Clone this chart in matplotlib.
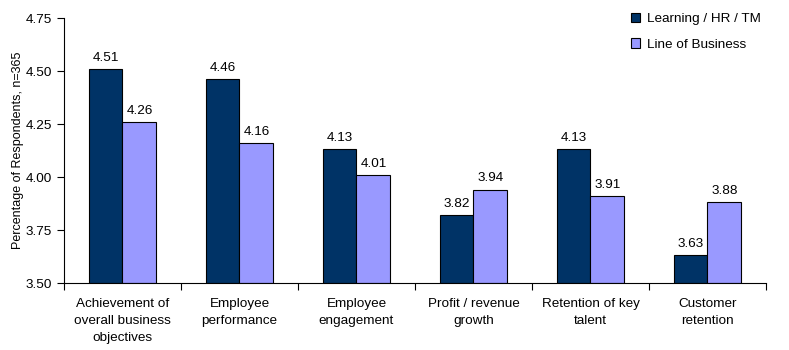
import matplotlib
matplotlib.use("Agg")
import matplotlib.pyplot as plt
import numpy as np

plt.rcParams['font.family'] = ['Liberation Sans', 'DejaVu Sans']

categories = ["Achievement of\noverall business\nobjectives", "Employee\nperformance",
              "Employee\nengagement", "Profit / revenue\ngrowth",
              "Retention of key\ntalent", "Customer\nretention"]
learning = [4.51, 4.46, 4.13, 3.82, 4.13, 3.63]
business = [4.26, 4.16, 4.01, 3.94, 3.91, 3.88]
series_names = ["Learning / HR / TM", "Line of Business"]
yticks = [3.50, 3.75, 4.00, 4.25, 4.50, 4.75]

fig = plt.figure(figsize=(7.89, 3.5), dpi=100)
ax = fig.add_axes([64/789, 1-283/350, (766-64)/789, (283-18)/350])

x = np.arange(len(categories))
w = 0.29
ax.bar(x - w/2, [v - 3.5 for v in learning], w, bottom=3.5, color="#003366",
       edgecolor="black", linewidth=0.8, label=series_names[0])
ax.bar(x + w/2, [v - 3.5 for v in business], w, bottom=3.5, color="#9999FF",
       edgecolor="black", linewidth=0.8, label=series_names[1])

for xi, v in zip(x - w/2, learning):
    ax.text(xi, v + 0.025, f"{v:.2f}", ha="center", va="bottom", fontsize=9.7)
for xi, v in zip(x + w/2, business):
    ax.text(xi, v + 0.025, f"{v:.2f}", ha="center", va="bottom", fontsize=9.7)

ax.set_xlim(-0.5, len(categories) - 0.5)
ax.set_ylim(3.5, 4.75)
ax.set_yticks(yticks)
ax.set_yticklabels([f"{t:.2f}" for t in yticks], fontsize=9.7)
ax.set_xticks(np.arange(len(categories) + 1) - 0.5)
ax.set_xticklabels([])
ax.set_xticks(x, minor=True)
ax.set_xticklabels(categories, minor=True, fontsize=9.7, linespacing=1.55)
ax.tick_params(axis='x', which='minor', length=0, pad=11)
ax.tick_params(axis='x', which='major', length=5, direction='out')
ax.tick_params(axis='y', length=5, direction='out')
ax.spines['top'].set_visible(False)
ax.spines['right'].set_visible(False)
ax.set_ylabel("Percentage of Respondents, n=365", fontsize=9, labelpad=1)

ax.legend(loc="upper right", bbox_to_anchor=(1.01, 1.065), frameon=False,
          fontsize=9.7, handlelength=0.7, handleheight=0.7, labelspacing=0.95,
          handletextpad=0.5)

fig.savefig("out.png", dpi=100)
